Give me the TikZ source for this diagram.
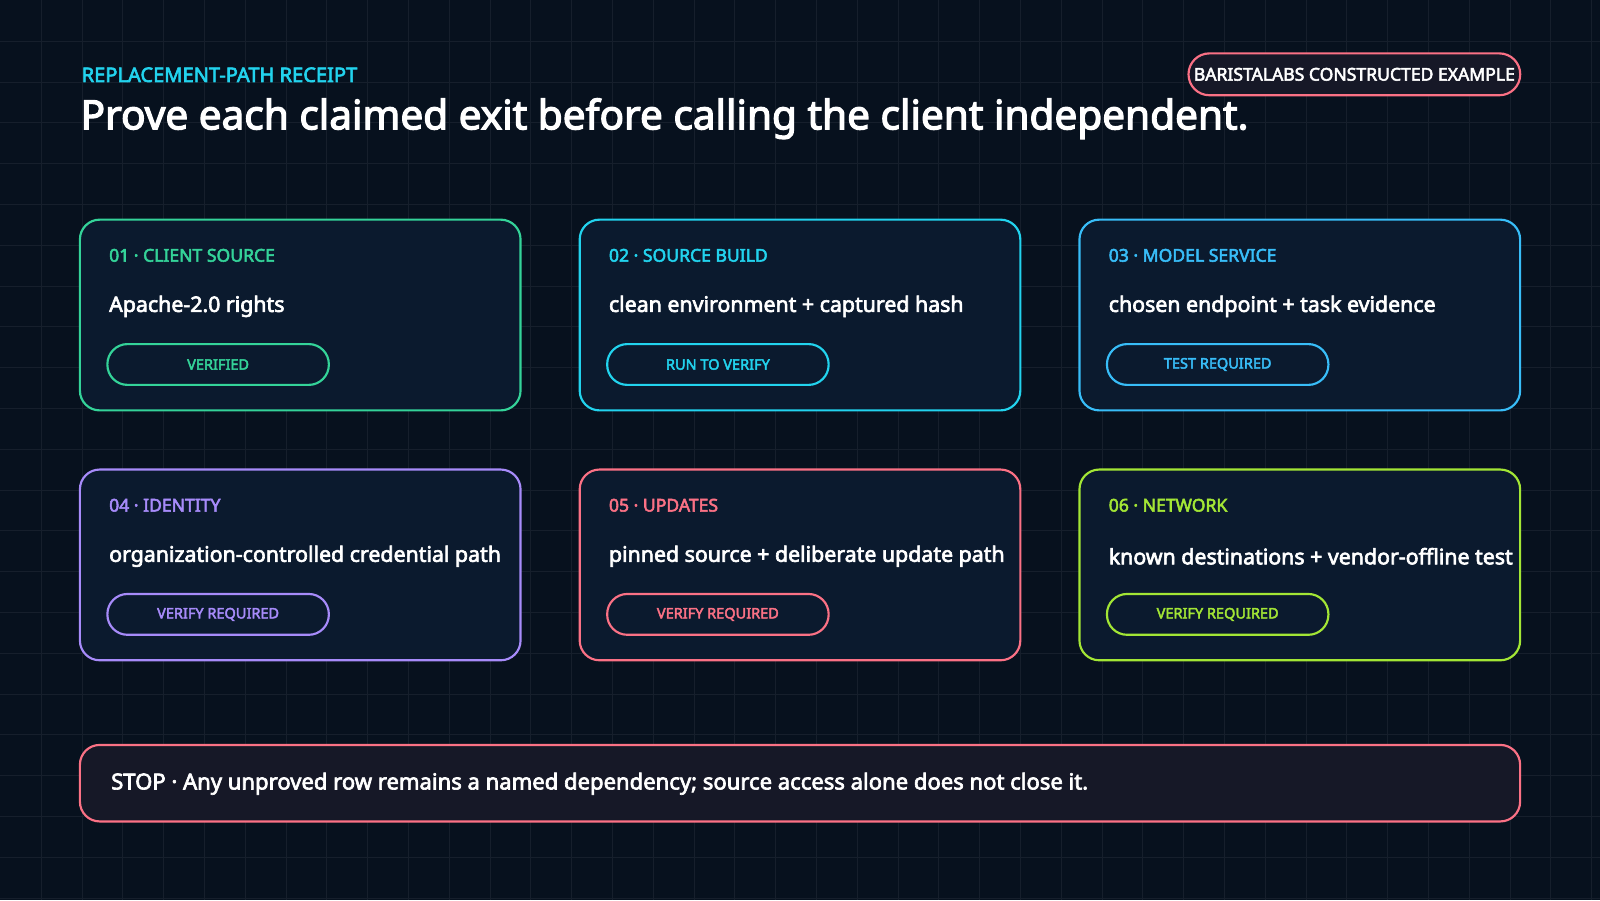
\documentclass[tikz,border=0pt]{standalone}
\usepackage{fontspec}
\setmainfont{Noto Sans}[AutoFakeBold=3]
\usetikzlibrary{positioning}
\definecolor{bg}{HTML}{07111E}
\definecolor{cardbg}{HTML}{0B1A2E}
\definecolor{stopbg}{HTML}{161827}
\definecolor{cgreen}{HTML}{34D399}
\definecolor{ccyan}{HTML}{22D3EE}
\definecolor{csky}{HTML}{38BDF8}
\definecolor{cviolet}{HTML}{A78BFA}
\definecolor{cpink}{HTML}{FB7185}
\definecolor{clime}{HTML}{A3E635}
\tikzset{
  card/.style={draw=#1,line width=0.6pt,fill=cardbg,rounded corners=5.5pt},
  tag/.style={font=\bfseries\fontsize{4.9}{5.5}\selectfont,text=#1,anchor=west,inner sep=0pt},
  body/.style={font=\bfseries\fontsize{5.95}{6.5}\selectfont,text=white,anchor=west,inner sep=0pt},
  pill/.style={draw=#1,line width=0.6pt,rounded corners=5.6pt,minimum width=2.17cm,minimum height=0.4cm,
    font=\bfseries\fontsize{4.05}{4.5}\selectfont,text=#1,inner sep=0pt}
}
\begin{document}
\begin{tikzpicture}[x=0.01cm,y=-0.01cm]
\fill[bg] (0,0) rectangle (1568,882);
\foreach \g in {40,80,...,1560} \draw[white!6!bg,line width=0.2pt] (\g,0) -- (\g,882);
\foreach \g in {40,80,...,880} \draw[white!6!bg,line width=0.2pt] (0,\g) -- (1568,\g);
% header
\node[anchor=west,text=ccyan,font=\bfseries\fontsize{5.6}{6}\selectfont,inner sep=0pt] (kicker) at (79,73) {REPLACEMENT-PATH RECEIPT};
\node[anchor=west,text=white,font=\bfseries\fontsize{11.3}{13}\selectfont,inner sep=0pt] (title) at (78,116)
  {Prove each claimed exit before calling the client independent.};
\node[draw=cpink,fill=stopbg,line width=0.6pt,rounded corners=5.8pt,minimum width=3.25cm,minimum height=0.41cm,
  text=white,font=\bfseries\fontsize{4.9}{5.5}\selectfont,inner sep=0pt] (badge) at (1327.5,72.5) {BARISTALABS CONSTRUCTED EXAMPLE};
% cards
\foreach \x/\y/\c/\n/\t/\b/\p in {
  78/215/cgreen/c1/01 · CLIENT SOURCE/Apache-2.0 rights/VERIFIED,
  568/215/ccyan/c2/02 · SOURCE BUILD/clean environment + captured hash/RUN TO VERIFY,
  1058/215/csky/c3/03 · MODEL SERVICE/chosen endpoint + task evidence/TEST REQUIRED,
  78/460/cviolet/c4/04 · IDENTITY/organization-controlled credential path/VERIFY REQUIRED,
  568/460/cpink/c5/05 · UPDATES/pinned source + deliberate update path/VERIFY REQUIRED,
  1058/460/clime/c6/06 · NETWORK/known destinations + vendor-offline test/VERIFY REQUIRED}{
  \draw[card=\c] (\x,\y) rectangle ++(432,187);
  \node[tag=\c] (\n-tag) at (\x+28,\y+35) {\t};
  \node[body] (\n-body) at (\x+28,\y+85) {\b};
  \node[pill=\c] (\n-pill) at (\x+135.5,\y+142) {\p};
}
% stop bar
\draw[draw=cpink,fill=stopbg,line width=0.6pt,rounded corners=5.5pt] (78,730) rectangle (1490,805);
\node[body,font=\bfseries\fontsize{6.15}{7}\selectfont] (stop) at (108,768) {STOP · Any unproved row remains a named dependency; source access alone does not close it.};
\end{tikzpicture}
\end{document}
